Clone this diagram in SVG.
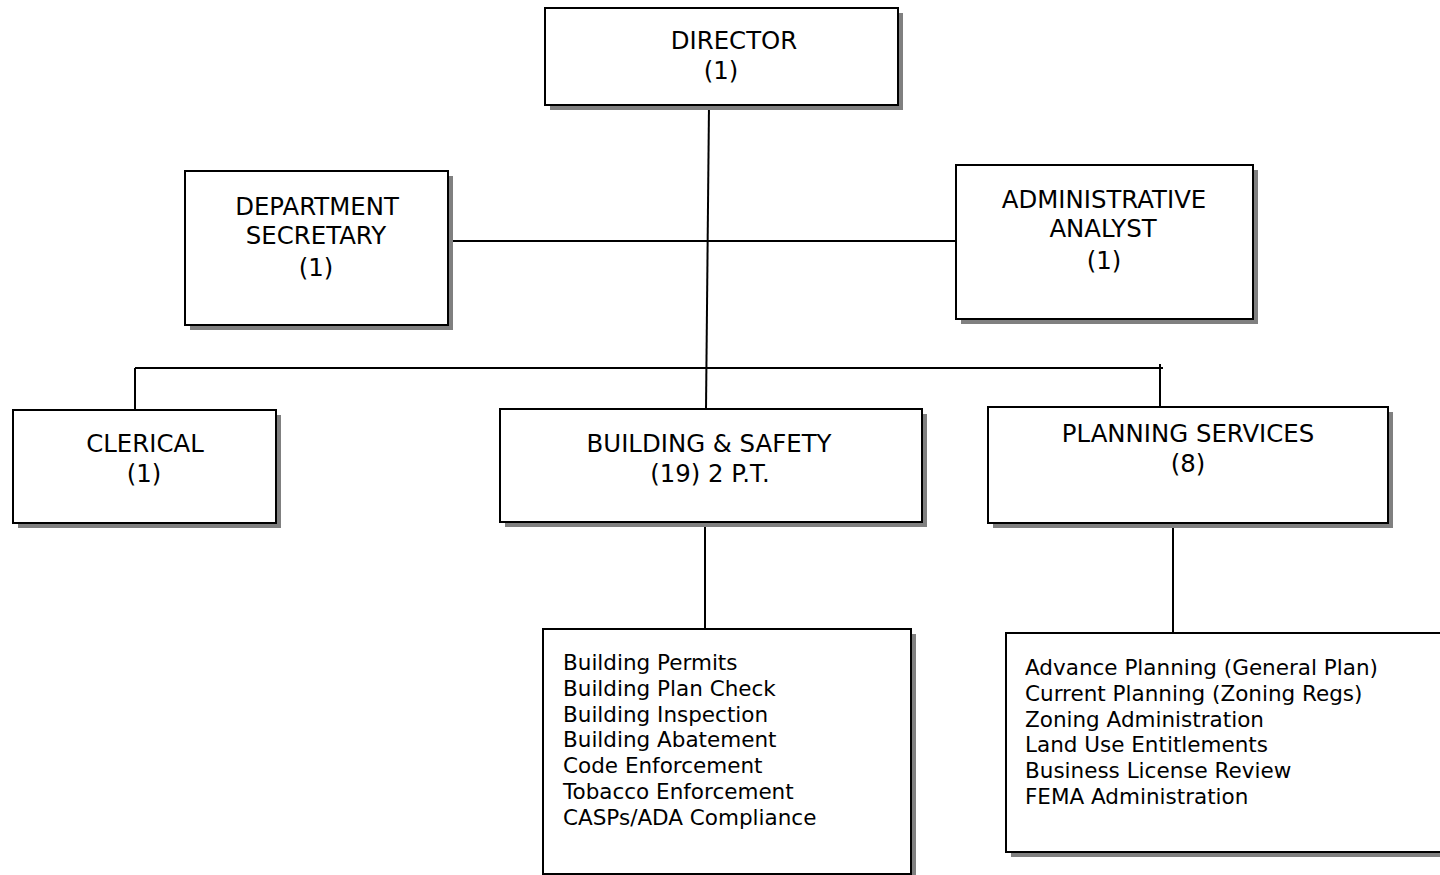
<svg xmlns="http://www.w3.org/2000/svg" width="1440" height="875" viewBox="0 0 1440 875">
<defs>
<style>
.sh{fill:#808080;stroke:none}
.bx{fill:#fff;stroke:#000;stroke-width:2}
.h{font-family:"DejaVu Sans","Noto Sans",sans-serif;font-size:24.4px;fill:#000;text-anchor:middle}
.l{font-family:"DejaVu Sans","Noto Sans",sans-serif;font-size:21.5px;fill:#000}
.ln{stroke:#000;stroke-width:2;fill:none}
</style>
</defs>
<rect width="1440" height="875" fill="#fff"/>
<g id="connectors">
<line class="ln" x1="709" y1="105" x2="706" y2="409"/>
<line class="ln" x1="448" y1="241" x2="956" y2="241"/>
<line class="ln" x1="135" y1="368" x2="1163" y2="368"/>
<line class="ln" x1="135" y1="368" x2="135" y2="410"/>
<line class="ln" x1="1160" y1="364" x2="1160" y2="407"/>
<line class="ln" x1="705" y1="522" x2="705" y2="629"/>
<line class="ln" x1="1173" y1="523" x2="1173" y2="633"/>
</g>
<g id="director">
<rect class="sh" x="550" y="13" width="353" height="97"/>
<rect class="bx" x="545" y="8" width="353" height="97"/>
<text class="h" x="734" y="49">DIRECTOR</text>
<text class="h" x="721" y="79">(1)</text>
</g>
<g id="dept-secretary">
<rect class="sh" x="190" y="176" width="263" height="154"/>
<rect class="bx" x="185" y="171" width="263" height="154"/>
<text class="h" x="317" y="215">DEPARTMENT</text>
<text class="h" x="316" y="244">SECRETARY</text>
<text class="h" x="316" y="276">(1)</text>
</g>
<g id="admin-analyst">
<rect class="sh" x="961" y="170" width="297" height="154"/>
<rect class="bx" x="956" y="165" width="297" height="154"/>
<text class="h" x="1104" y="208">ADMINISTRATIVE</text>
<text class="h" x="1103" y="237">ANALYST</text>
<text class="h" x="1104" y="269">(1)</text>
</g>
<g id="clerical">
<rect class="sh" x="18" y="415" width="263" height="113"/>
<rect class="bx" x="13" y="410" width="263" height="113"/>
<text class="h" x="145" y="452">CLERICAL</text>
<text class="h" x="144" y="482">(1)</text>
</g>
<g id="building-safety">
<rect class="sh" x="505" y="414" width="422" height="113"/>
<rect class="bx" x="500" y="409" width="422" height="113"/>
<text class="h" x="709" y="452">BUILDING &amp; SAFETY</text>
<text class="h" x="710" y="482">(19) 2 P.T.</text>
</g>
<g id="planning-services">
<rect class="sh" x="993" y="412" width="400" height="116"/>
<rect class="bx" x="988" y="407" width="400" height="116"/>
<text class="h" x="1188" y="442">PLANNING SERVICES</text>
<text class="h" x="1188" y="472">(8)</text>
</g>
<g id="building-functions">
<rect class="sh" x="548" y="634" width="368" height="245"/>
<rect class="bx" x="543" y="629" width="368" height="245"/>
<text class="l" x="563" y="670">Building Permits</text>
<text class="l" x="563" y="696">Building Plan Check</text>
<text class="l" x="563" y="722">Building Inspection</text>
<text class="l" x="563" y="747">Building Abatement</text>
<text class="l" x="563" y="773">Code Enforcement</text>
<text class="l" x="563" y="799">Tobacco Enforcement</text>
<text class="l" x="563" y="825">CASPs/ADA Compliance</text>
</g>
<g id="planning-functions">
<rect class="sh" x="1011" y="638" width="440" height="219"/>
<rect class="bx" x="1006" y="633" width="440" height="219"/>
<text class="l" x="1025" y="675">Advance Planning (General Plan)</text>
<text class="l" x="1025" y="701">Current Planning (Zoning Regs)</text>
<text class="l" x="1025" y="727">Zoning Administration</text>
<text class="l" x="1025" y="752">Land Use Entitlements</text>
<text class="l" x="1025" y="778">Business License Review</text>
<text class="l" x="1025" y="804">FEMA Administration</text>
</g>
</svg>
